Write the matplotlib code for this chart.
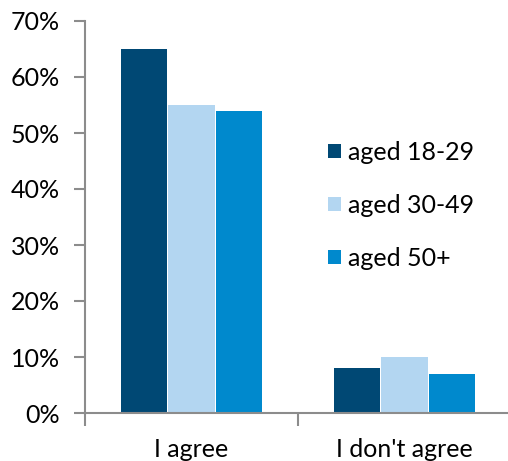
import matplotlib.pyplot as plt
import numpy as np

# donnees
categories = ["I agree", "I don't agree"]
groupes = ["aged 18-29", "aged 30-49", "aged 50+"]
valeurs_18_29 = [65, 8]
valeurs_30_49 = [55, 10]
valeurs_50 = [54, 7]
couleurs = ["#004874", "#b3d6f1", "#0089cd"]

plt.rcParams['font.family'] = ['Lato', 'DejaVu Sans']

fig = plt.figure(figsize=(5.08, 4.61), dpi=100)
W, H = 508, 461
ax = fig.add_axes([85 / W, (H - 413) / H, 426 / W, (413 - 21) / H])

x = np.arange(len(categories))
largeur = 0.218
series = [valeurs_18_29, valeurs_30_49, valeurs_50]
for i, (vals, nom, c) in enumerate(zip(series, groupes, couleurs)):
    ax.bar(x + (i - 1) * (largeur + 0.004), vals, width=largeur, color=c, label=nom)

ax.set_xlim(-0.5, 1.5)
ax.set_ylim(0, 70)
ax.set_yticks(range(0, 71, 10))
ax.set_yticklabels([f"{v}%" for v in range(0, 71, 10)])

# ticks x aux frontieres des categories, labels au centre
ax.set_xticks([-0.5, 0.5, 1.5])
ax.set_xticklabels([])
ax.set_xticks(x, minor=True)
ax.set_xticklabels(categories, minor=True)
ax.tick_params(axis='x', which='minor', length=0, pad=18, labelsize=18)
ax.tick_params(axis='x', which='major', length=9, width=1.5, color="#8c8c8c", direction='out')
ax.tick_params(axis='y', length=8, width=1.5, color="#8c8c8c", pad=10, labelsize=18)

for s in ['top', 'right']:
    ax.spines[s].set_visible(False)
for s in ['left', 'bottom']:
    ax.spines[s].set_color("#8c8c8c")
    ax.spines[s].set_linewidth(1.5)

leg = ax.legend(loc='upper left', bbox_to_anchor=(328 / W, (H - 141) / H), bbox_transform=fig.transFigure,
                frameon=False, fontsize=18, handlelength=0.52, handleheight=0.52, borderpad=0,
                borderaxespad=0, handletextpad=0.3, labelspacing=1.2)

plt.savefig("out.png", dpi=100)
plt.close()
